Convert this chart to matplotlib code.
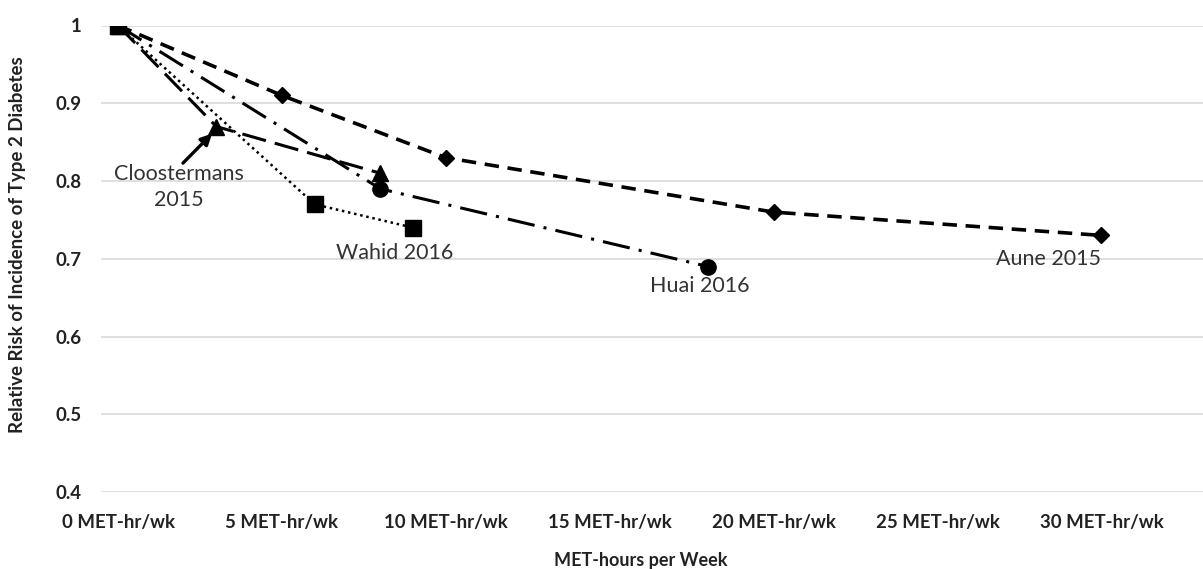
"""
Relative risk of type 2 diabetes vs MET-hours per week
"""

import matplotlib.pyplot as plt

# data
aune_x = [0, 5, 10, 20, 30]
aune_y = [1.0, 0.91, 0.83, 0.76, 0.73]

huai_x = [0, 8, 18]
huai_y = [1.0, 0.79, 0.69]

cloos_x = [0, 3, 8]
cloos_y = [1.0, 0.87, 0.81]

wahid_x = [0, 6, 9]
wahid_y = [1.0, 0.77, 0.74]

xticks = [0, 5, 10, 15, 20, 25, 30]
xtick_labels = ["%d MET-hr/wk" % v for v in xticks]
yticks = [0.4, 0.5, 0.6, 0.7, 0.8, 0.9, 1.0]
ytick_labels = ["0.4", "0.5", "0.6", "0.7", "0.8", "0.9", "1"]

plt.rcParams["font.family"] = ["Lato", "DejaVu Sans"]

fig = plt.figure(figsize=(12.03, 5.69), dpi=100)
ax = fig.add_axes([101 / 1203, 1 - 492 / 569, 1 - 101 / 1203, (492 - 25.5) / 569])

ax.plot(aune_x, aune_y, color="black", lw=2.6, dashes=(4, 2.4),
        marker="D", ms=8, zorder=3)
ax.plot(huai_x, huai_y, color="black", lw=2.2, dashes=(9, 3, 1, 3),
        marker="o", ms=11, zorder=3)
ax.plot(cloos_x, cloos_y, color="black", lw=2.2, dashes=(8, 3),
        marker="^", ms=11, zorder=3)
ax.plot(wahid_x, wahid_y, color="black", lw=1.8, dashes=(1, 1.5),
        marker="s", ms=11, zorder=3)

ax.set_xlim(-0.52, 33.1)
ax.set_ylim(0.4, 1.0)
ax.set_xticks(xticks)
ax.set_xticklabels(xtick_labels, fontsize=13.4, fontweight="bold", color="#222222")
ax.set_yticks(yticks)
ax.set_yticklabels(ytick_labels, fontsize=13.4, fontweight="bold", color="#222222")
ax.tick_params(axis="x", length=0, pad=16)
ax.tick_params(axis="y", length=0, pad=14)
ax.grid(True, axis="y", color="#d9d9d9", lw=1.2)
ax.set_axisbelow(True)
for s in ax.spines.values():
    s.set_visible(False)

ax.set_ylabel("Relative Risk of Incidence of Type 2 Diabetes", fontsize=13.5,
              fontweight="bold", color="#222222")
ax.yaxis.set_label_coords(-0.068, 0.53)
ax.set_xlabel("MET-hours per Week", fontsize=13, fontweight="bold",
              color="#222222")
ax.xaxis.set_label_coords(0.49, -0.128)

lab = dict(fontsize=15.5, color="#333333", ha="center", va="center")
ax.text(1.86, 0.792, "Cloostermans\n2015", linespacing=1.4, **lab)
ax.annotate("", xy=(2.87, 0.861), xytext=(1.98, 0.823),
            arrowprops=dict(arrowstyle="-|>", color="black", lw=2.4,
                            shrinkA=0, shrinkB=0, mutation_scale=16))
ax.text(8.45, 0.708, "Wahid 2016", **lab)
ax.text(17.74, 0.665, "Huai 2016", **lab)
ax.text(28.4, 0.70, "Aune 2015", **lab)

fig.savefig("out.png", dpi=100)
